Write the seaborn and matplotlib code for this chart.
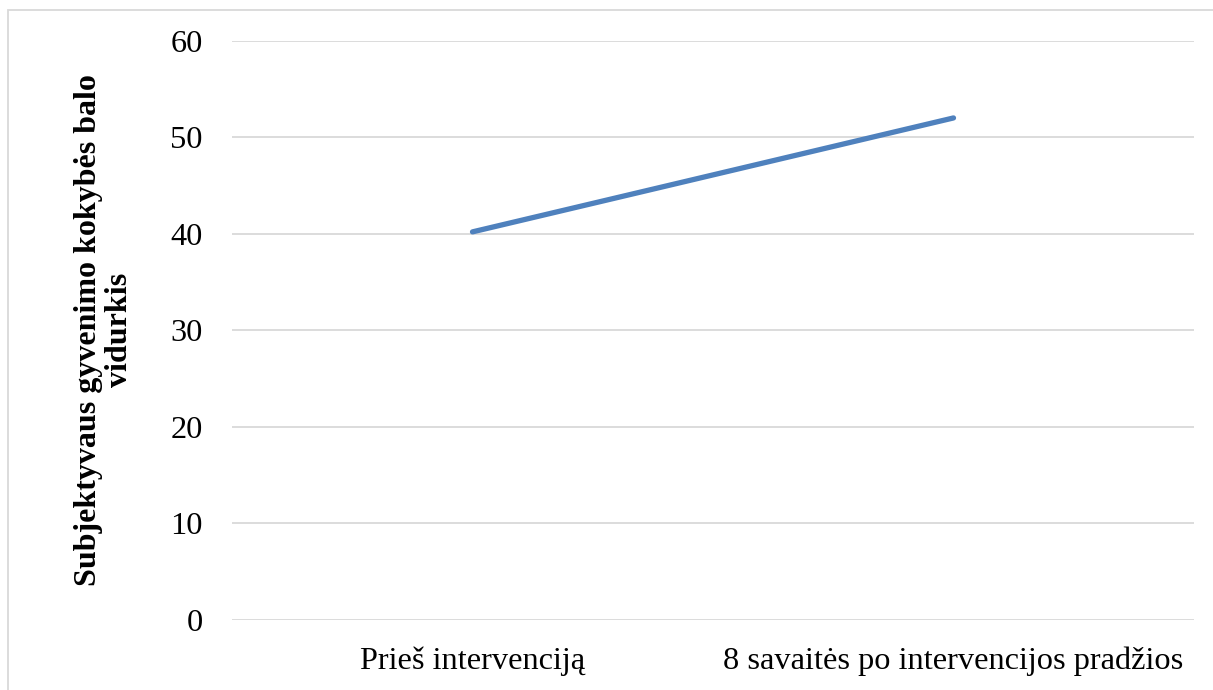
import matplotlib
matplotlib.use("Agg")
import matplotlib.pyplot as plt
import seaborn as sns
import pandas as pd
from matplotlib.patches import Rectangle

# Mean subjective quality-of-life score before and after the intervention
periods = ["Prieš intervenciją", "8 savaitės po intervencijos pradžios"]
mean_scores = [40.2, 52.0]
y_ticks = [0, 10, 20, 30, 40, 50, 60]

df = pd.DataFrame({"laikotarpis": periods, "balas": mean_scores})

sns.set_theme(style="white")
plt.rcParams["font.family"] = ["Liberation Serif", "DejaVu Serif"]

W, H = 1213, 690
fig = plt.figure(figsize=(W / 100, H / 100), dpi=100)
ax = fig.add_axes([232 / W, 1 - 620 / H, (1194 - 232) / W, (620 - 40.7) / H])

sns.lineplot(data=df, x="laikotarpis", y="balas", ax=ax, color="#4F81BD",
             linewidth=3.8, solid_capstyle="round", sort=False)

ax.set_xlim(-0.5, 1.5)
ax.set_ylim(0, 60)
ax.set_yticks(y_ticks)
ax.set_yticklabels([str(v) for v in y_ticks])
ax.yaxis.grid(True, color="#D9D9D9", linewidth=1.3)
ax.set_axisbelow(True)
for s in ax.spines.values():
    s.set_visible(False)
ax.tick_params(axis="both", length=0, labelsize=23.3, colors="black")
ax.tick_params(axis="y", pad=21)
ax.tick_params(axis="x", pad=19)
ax.set_xlabel("")
ax.set_ylabel("Subjektyvaus gyvenimo kokybės balo\nvidurkis", fontsize=23,
              fontweight="bold", color="black", labelpad=26, linespacing=1.12)

# Light outer frame around the chart area
fig.patches.append(Rectangle((8 / W, -0.1), 1.2, 1 - 10 / H + 0.1,
                             transform=fig.transFigure, fill=False,
                             edgecolor="#D9D9D9", linewidth=1.3))

fig.savefig("out.png", dpi=100)
